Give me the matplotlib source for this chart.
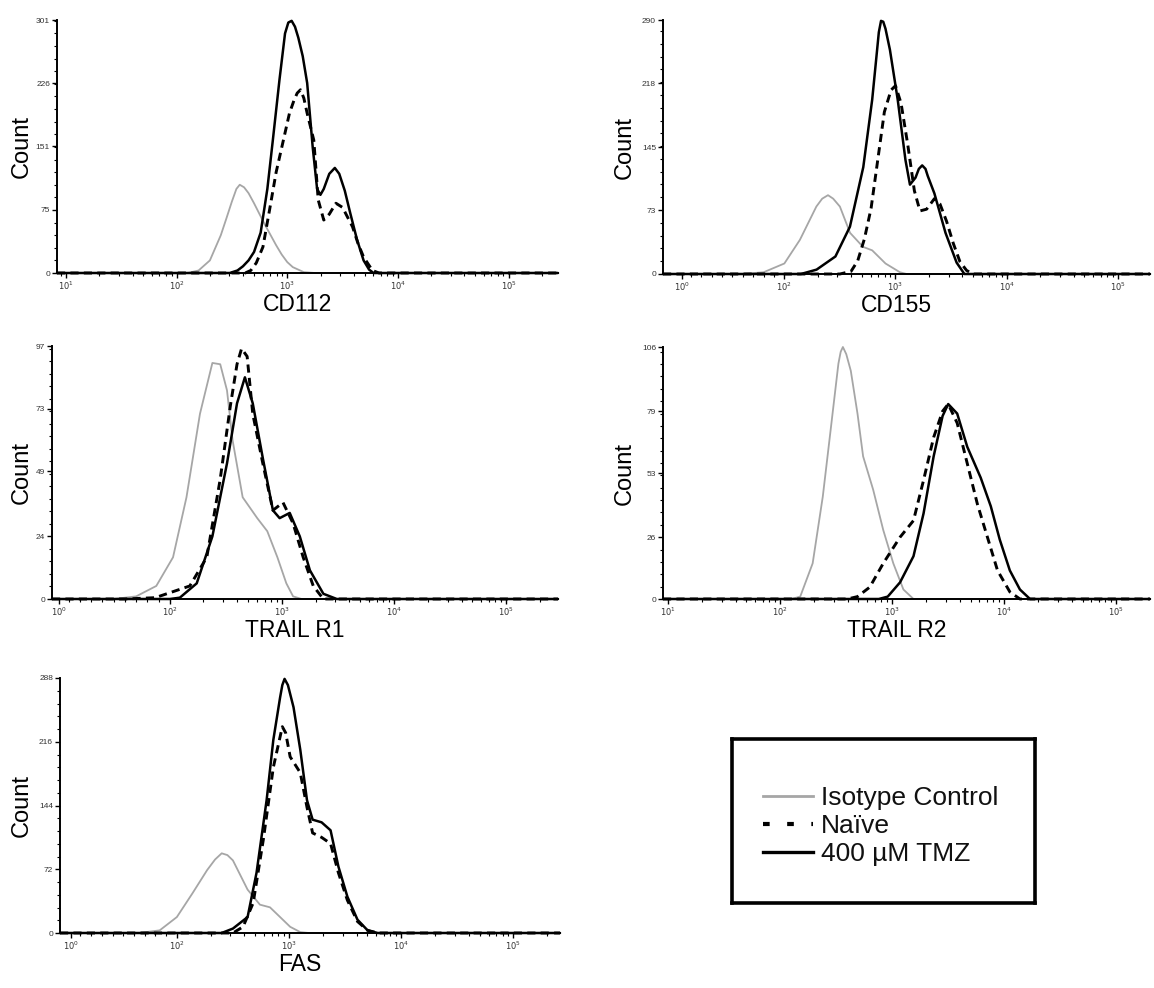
import numpy as np
import matplotlib
matplotlib.use('Agg')
import matplotlib.pyplot as plt
from matplotlib.ticker import FixedLocator, AutoMinorLocator, NullFormatter
from matplotlib.lines import Line2D

plt.rcParams['font.family'] = ['Liberation Sans', 'DejaVu Sans']
plt.rcParams['mathtext.fontset'] = 'dejavusans'

# ---------------- data (fluorescence intensity, count) ----------------
series_names = ['Isotype Control', 'Naïve', '400 µM TMZ']
panel_names = ['CD112', 'CD155', 'TRAIL R1', 'TRAIL R2', 'FAS']

# CD112 (log axis)
cd112_iso_x = [8.3, 126, 158, 200, 251, 282, 316, 347, 372, 407, 447, 501, 562, 631, 708, 794, 891,
               1000, 1122, 1413, 1778, 280000]
cd112_iso_y = [0, 0, 3, 15, 45, 65, 85, 100, 105, 102, 95, 83, 70, 57, 45, 33, 22,
               13, 7, 1, 0, 0]
cd112_nai_x = [8.3, 417, 468, 525, 603, 692, 794, 912, 1047, 1148, 1230, 1318, 1413, 1514, 1738, 1905,
               2138, 2399, 2754, 3162, 3890, 4365, 4898, 5888, 6761, 280000]
cd112_nai_y = [0, 0, 3, 12, 31, 75, 120, 155, 190, 205, 214, 218, 208, 190, 158, 87,
               63, 70, 83, 78, 55, 35, 19, 3, 0, 0]
cd112_tmz_x = [8.3, 302, 355, 398, 447, 501, 575, 661, 741, 851, 955, 1023, 1096, 1175, 1259, 1380,
               1514, 1698, 1862, 1995, 2138, 2399, 2692, 2951, 3311, 3715, 4266, 4898, 5495, 6026, 280000]
cd112_tmz_y = [0, 0, 3, 8, 15, 25, 48, 100, 158, 230, 285, 298, 300, 293, 280, 258,
               226, 150, 100, 93, 100, 118, 125, 118, 98, 71, 40, 15, 4, 0, 0]

# CD155 (biexponential axis)
cd155_iso_x = [-17, 60, 80, 100, 138, 194, 219, 247, 275, 316, 390, 510, 617, 813, 1096, 1259, 195000]
cd155_iso_y = [0, 0, 2, 12, 39, 77, 86, 90, 86, 77, 47, 31, 27, 12, 2, 0, 0]
cd155_nai_x = [-17, 316, 398, 457, 525, 603, 692, 794, 912, 1000, 1122, 1288, 1479, 1660, 1905,
               2239, 2512, 2884, 3311, 3802, 4365, 5012, 195000]
cd155_nai_y = [0, 0, 3, 15, 40, 75, 130, 185, 210, 215, 195, 148, 95, 72, 74,
               86, 80, 60, 35, 14, 4, 0, 0]
cd155_tmz_x = [-17, 141, 195, 288, 389, 513, 617, 676, 708, 741, 776, 813, 891, 1047, 1230, 1349,
               1514, 1622, 1738, 1862, 1950, 2239, 2818, 3548, 4169, 195000]
cd155_tmz_y = [0, 0, 5, 20, 54, 122, 199, 250, 276, 289, 288, 280, 256, 199, 130, 102,
               110, 120, 124, 120, 112, 92, 47, 13, 0, 0]

# TRAIL R1 (biexponential axis)
tr1_iso_x = [-5, 50, 70, 88, 107, 141, 186, 240, 282, 324, 363, 447, 603, 741, 912, 1096, 1259, 1500, 290000]
tr1_iso_y = [0, 0, 1, 5, 16, 39, 71, 90.5, 90, 80, 61, 39, 31, 26, 16, 6, 1, 0, 0]
tr1_nai_x = [-5, 60, 87, 151, 214, 282, 347, 398, 437, 490, 550, 676, 832, 1023, 1259, 1549, 1905, 2344, 290000]
tr1_nai_y = [0, 0, 0.5, 5, 16, 46, 74, 90, 96, 93, 71, 52, 34, 37, 29, 16, 5, 0, 0]
tr1_tmz_x = [-5, 100, 123, 174, 240, 324, 398, 468, 550, 676, 832, 955, 1175, 1445, 1778, 2344, 3090, 290000]
tr1_tmz_y = [0, 0, 0.5, 6, 24, 52, 75, 85, 75, 54, 34, 31, 33, 24, 11, 2, 0, 0]

# TRAIL R2 (log axis)
tr2_iso_x = [9, 126, 151, 195, 240, 282, 331, 347, 363, 389, 427, 490, 550, 676, 832, 1023, 1259, 1549, 200000]
tr2_iso_y = [0, 0, 1, 15, 43, 71, 99, 104, 106, 103, 96, 78, 60, 46, 29, 15, 4, 0, 0]
tr2_nai_x = [9, 398, 490, 631, 832, 1175, 1549, 1905, 2344, 2818, 3162, 3802, 4677, 5754, 7079,
             8710, 11220, 13804, 200000]
tr2_nai_y = [0, 0, 1, 5, 15, 26, 33, 50, 68, 79, 82, 74, 57, 40, 26, 12, 3, 0, 0]
tr2_tmz_x = [9, 759, 912, 1175, 1549, 1905, 2344, 2818, 3162, 3802, 4677, 6166, 7586, 9120,
             11220, 13804, 16982, 200000]
tr2_tmz_y = [0, 0, 1, 7, 18, 36, 60, 77, 82, 78, 64, 51, 39, 25, 12, 4, 0, 0]

# FAS (biexponential axis)
fas_iso_x = [-9, 65, 84, 100, 138, 186, 219, 251, 282, 316, 427, 550, 676, 832, 1023, 1259, 1500, 260000]
fas_iso_y = [0, 0, 3, 18, 45, 71, 83, 90, 88, 82, 49, 32, 29, 18, 7, 1, 0, 0]
fas_nai_x = [-9, 316, 389, 479, 589, 724, 871, 933, 1023, 1259, 1445, 1622, 1950, 2344, 2754,
             3311, 4074, 5012, 6166, 260000]
fas_nai_y = [0, 0, 7, 34, 105, 187, 233, 226, 199, 181, 142, 113, 108, 101, 68, 37, 13, 3, 0, 0]
fas_tmz_x = [-9, 251, 316, 427, 513, 631, 724, 832, 871, 912, 977, 1096, 1259, 1445, 1622, 1950, 2344,
             2754, 3311, 4074, 5012, 6166, 260000]
fas_tmz_y = [0, 0, 5, 18, 68, 150, 218, 266, 280, 287, 280, 255, 207, 150, 128, 125, 116,
             75, 41, 15, 3, 0, 0]

# y tick labels of each panel
cd112_yticks = [0, 75, 151, 226, 301]
cd155_yticks = [0, 73, 145, 218, 290]
tr1_yticks = [0, 24, 49, 73, 97]
tr2_yticks = [0, 26, 53, 79, 106]
fas_yticks = [0, 72, 144, 216, 288]

log_xticks = [10, 100, 1000, 10000, 100000]
log_xticklabels = ['$10^{1}$', '$10^{2}$', '$10^{3}$', '$10^{4}$', '$10^{5}$']
biex_xticks = [1, 100, 1000, 10000, 100000]
biex_xticklabels = ['$10^{0}$', '$10^{2}$', '$10^{3}$', '$10^{4}$', '$10^{5}$']

panels = [
    dict(name='CD112', scale='log', xlim=(8.3, 280000), yt=cd112_yticks,
         data=[(cd112_iso_x, cd112_iso_y), (cd112_nai_x, cd112_nai_y), (cd112_tmz_x, cd112_tmz_y)],
         rect=(57, 20, 558, 273), ylab=-0.07, linscale=None),
    dict(name='CD155', scale='symlog', xlim=(-17, 195000), yt=cd155_yticks,
         data=[(cd155_iso_x, cd155_iso_y), (cd155_nai_x, cd155_nai_y), (cd155_tmz_x, cd155_tmz_y)],
         rect=(663, 20, 1150, 274), ylab=-0.078, linscale=0.84),
    dict(name='TRAIL R1', scale='symlog', xlim=(-5, 290000), yt=tr1_yticks,
         data=[(tr1_iso_x, tr1_iso_y), (tr1_nai_x, tr1_nai_y), (tr1_tmz_x, tr1_tmz_y)],
         rect=(52, 346, 558, 599), ylab=-0.06, linscale=0.9),
    dict(name='TRAIL R2', scale='log', xlim=(9, 200000), yt=tr2_yticks,
         data=[(tr2_iso_x, tr2_iso_y), (tr2_nai_x, tr2_nai_y), (tr2_tmz_x, tr2_tmz_y)],
         rect=(663, 347, 1150, 599), ylab=-0.078, linscale=None),
    dict(name='FAS', scale='symlog', xlim=(-9, 260000), yt=fas_yticks,
         data=[(fas_iso_x, fas_iso_y), (fas_nai_x, fas_nai_y), (fas_tmz_x, fas_tmz_y)],
         rect=(60, 678, 560, 933), ylab=-0.076, linscale=0.86),
]

W, H = 1154, 988
fig = plt.figure(figsize=(W / 100, H / 100), dpi=100)

styles = [
    dict(color='#a6a6a6', lw=1.3, ls='-', zorder=2),
    dict(color='black', lw=2.1, ls=(0, (2.8, 1.8)), zorder=3),
    dict(color='black', lw=1.8, ls='-', zorder=4),
]

for p in panels:
    x0, y0, x1, y1 = p['rect']
    ax = fig.add_axes([x0 / W, 1 - y1 / H, (x1 - x0) / W, (y1 - y0) / H])
    if p['scale'] == 'log':
        ax.set_xscale('log')
        ticks, labels = log_xticks, log_xticklabels
        minors = [m * 10 ** k for k in range(0, 6) for m in range(2, 10)]
    else:
        ax.set_xscale('symlog', linthresh=100, linscale=p['linscale'])
        ticks, labels = biex_xticks, biex_xticklabels
        minors = list(range(10, 100, 10)) + [m * 10 ** k for k in range(2, 6) for m in range(2, 10)]
    for (xs, ys), st in zip(p['data'], styles):
        ax.plot(xs, ys, color=st['color'], lw=st['lw'], ls=st['ls'],
                zorder=st['zorder'], clip_on=False, solid_joinstyle='round',
                solid_capstyle='round')
    ax.set_xlim(*p['xlim'])
    ax.set_ylim(0, p['yt'][-1])
    ax.set_xticks(ticks)
    ax.set_xticklabels(labels)
    ax.xaxis.set_minor_locator(FixedLocator([m for m in minors if p['xlim'][0] < m < p['xlim'][1]]))
    ax.xaxis.set_minor_formatter(NullFormatter())
    ax.set_yticks(p['yt'])
    ax.set_yticklabels([str(v) for v in p['yt']])
    ax.yaxis.set_minor_locator(AutoMinorLocator(5))
    for s in ['top', 'right']:
        ax.spines[s].set_visible(False)
    for s in ['left', 'bottom']:
        ax.spines[s].set_linewidth(1.4)
        ax.spines[s].set_zorder(5)
    ax.tick_params(axis='both', which='major', length=3.5, width=1.0, labelsize=6,
                   labelcolor='#333333', pad=1.5, direction='out')
    ax.tick_params(axis='both', which='minor', length=2, width=0.8, direction='out')
    ax.set_xlabel(p['name'], fontsize=16.5, va='center')
    ax.xaxis.set_label_coords(0.48, -0.125)
    ax.set_ylabel('Count', fontsize=17, va='center')
    ax.yaxis.set_label_coords(p['ylab'], 0.5)
    ax.patch.set_alpha(0)

# legend box
lx0, ly0, lx1, ly1 = 732, 739, 1035, 903
lax = fig.add_axes([lx0 / W, 1 - ly1 / H, (lx1 - lx0) / W, (ly1 - ly0) / H])
lax.set_xticks([])
lax.set_yticks([])
for s in lax.spines.values():
    s.set_linewidth(2.6)
    s.set_color('black')
handles = [
    Line2D([], [], color=styles[0]['color'], lw=2.0),
    Line2D([], [], color='black', lw=3.0, ls=(0, (1.6, 4.2))),
    Line2D([], [], color='black', lw=2.4),
]
leg = lax.legend(handles, series_names, loc='center', frameon=False, fontsize=19,
                 handlelength=1.9, handletextpad=0.3, labelspacing=0.15,
                 bbox_to_anchor=(0.49, 0.47))
for t in leg.get_texts():
    t.set_color('#111111')

fig.savefig('out.png', dpi=100)
